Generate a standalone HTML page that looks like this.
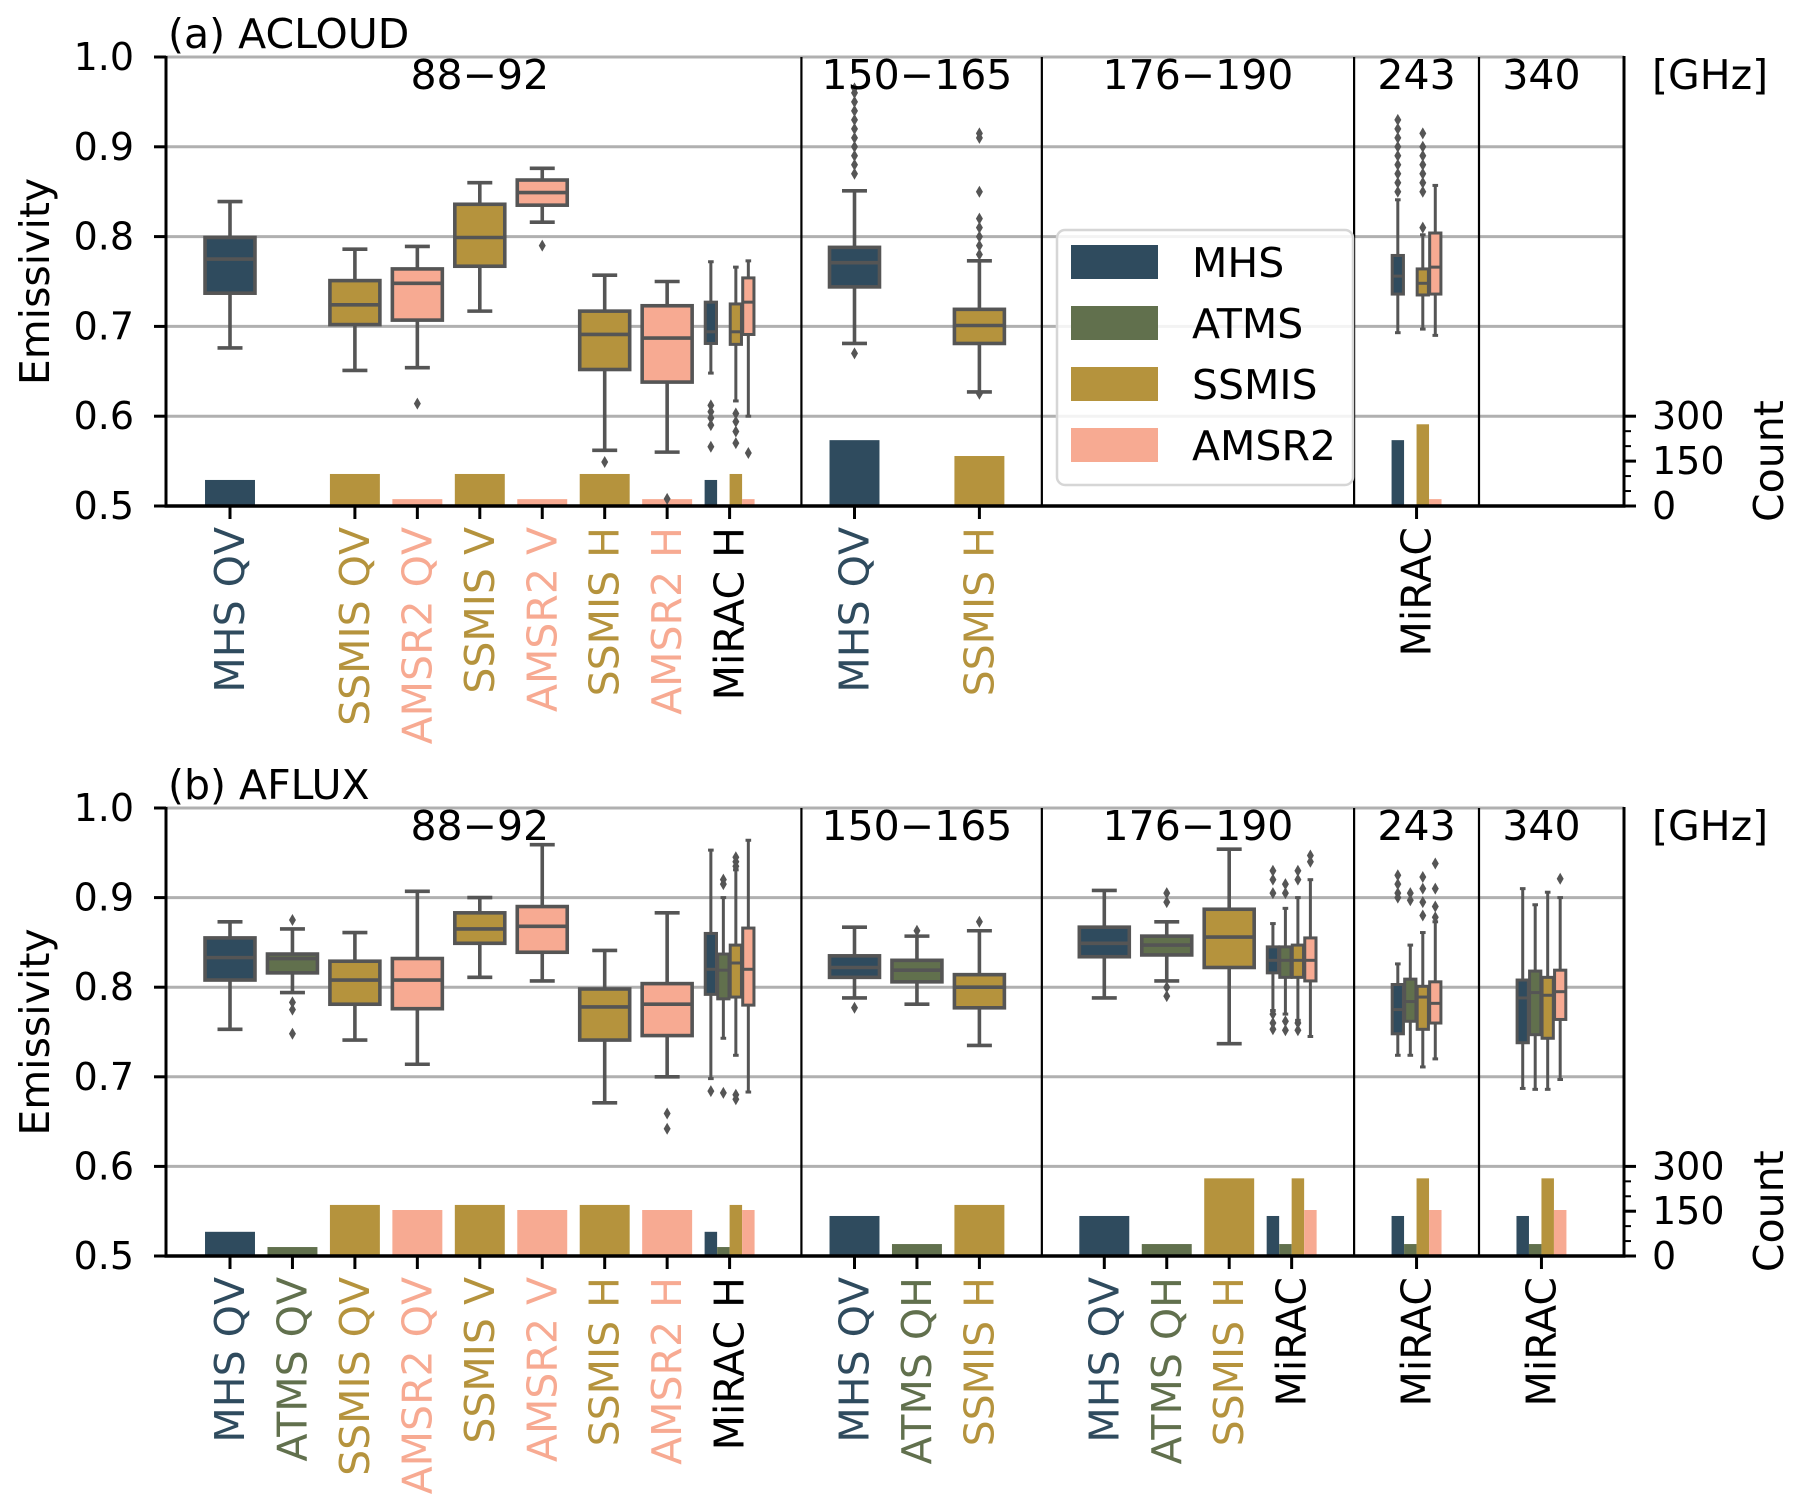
<!DOCTYPE html>
<html><head><meta charset="utf-8"><style>
html,body{margin:0;padding:0;background:#fff;}
svg{display:block;font-family:"DejaVu Sans","Liberation Sans",sans-serif;}
</style></head><body>
<svg id="chart" width="1800" height="1512" viewBox="0 0 1800 1512" xmlns="http://www.w3.org/2000/svg"></svg>
<script>
// ---------- data ----------
const hueNames = ["MHS","ATMS","SSMIS","AMSR2"];
const hueColors = ["#2f4b5e","#61704d","#b5933d","#f7aa92"];
const yTicks = [0.5,0.6,0.7,0.8,0.9,1.0];
const yTickLabels = ["0.5","0.6","0.7","0.8","0.9","1.0"];
const countTicks = [0,150,300];
const countTickLabels = ["0","150","300"];
const countMinor = [50,100,200,250];
const groupLabels = ["88\u221292","150\u2212165","176\u2212190","243","340"];
const groupCenters = [4,11,15.5,19,21];
const separators = [9.15,13,18,20];

// Panel a (ACLOUD)
const aLabelPos = [0,2,3,4,5,6,7,8,10,12,19];
const aLabels = ["MHS QV","SSMIS QV","AMSR2 QV","SSMIS V","AMSR2 V","SSMIS H","AMSR2 H","MiRAC H","MHS QV","SSMIS H","MiRAC"];
const aLabelHue = [0,2,3,2,3,2,3,-1,0,2,-1];
const aBoxPos = [0,2,3,4,5,6,7,8,8,8,10,12,19,19,19];
const aBoxHue = [0,2,3,2,3,2,3,0,2,3,0,2,0,2,3];
const aBoxDodge = [0,0,0,0,0,0,0,1,1,1,0,0,1,1,1];
const aBoxStats = [
 [0.676,0.737,0.775,0.799,0.839],[0.651,0.702,0.724,0.751,0.786],[0.654,0.707,0.748,0.764,0.789],
 [0.717,0.767,0.799,0.836,0.860],[0.816,0.835,0.849,0.863,0.876],[0.562,0.652,0.691,0.717,0.757],
 [0.560,0.638,0.687,0.723,0.750],[0.648,0.681,0.694,0.727,0.772],[0.617,0.680,0.694,0.725,0.766],
 [0.600,0.691,0.727,0.754,0.773],[0.681,0.744,0.771,0.788,0.851],[0.627,0.681,0.701,0.719,0.773],
 [0.693,0.736,0.756,0.779,0.841],[0.697,0.735,0.748,0.764,0.802],[0.690,0.736,0.766,0.804,0.857]];
const aBoxOut = [[],[],[0.614],[],[0.790],[0.549],[0.508],[0.612,0.605,0.598,0.590,0.566],[0.603,0.594,0.583,0.570],[0.559],
 [0.670,0.87,0.88,0.89,0.90,0.91,0.92,0.93,0.94,0.95,0.96,0.965],[0.625,0.78,0.79,0.80,0.81,0.82,0.85,0.91,0.915],
 [0.85,0.86,0.87,0.88,0.89,0.90,0.91,0.92,0.93],[0.81,0.85,0.86,0.87,0.88,0.89,0.90,0.915],[]];
const aBarPos = [0,2,3,4,5,6,7,8,8,8,10,12,19,19,19];
const aBarHue = [0,2,3,2,3,2,3,0,2,3,0,2,0,2,3];
const aBarDodge = [0,0,0,0,0,0,0,1,1,1,0,0,1,1,1];
const aBarCount = [87,107,23,107,23,107,23,87,107,23,220,167,220,273,23];

// Panel b (AFLUX)
const bLabelPos = [0,1,2,3,4,5,6,7,8,10,11,12,14,15,16,17,19,21];
const bLabels = ["MHS QV","ATMS QV","SSMIS QV","AMSR2 QV","SSMIS V","AMSR2 V","SSMIS H","AMSR2 H","MiRAC H","MHS QV","ATMS QH","SSMIS H","MHS QV","ATMS QH","SSMIS H","MiRAC","MiRAC","MiRAC"];
const bLabelHue = [0,1,2,3,2,3,2,3,-1,0,1,2,0,1,2,-1,-1,-1];
const bBoxPos = [0,1,2,3,4,5,6,7,8,8,8,8,10,11,12,14,15,16,17,17,17,17,19,19,19,19,21,21,21,21];
const bBoxHue = [0,1,2,3,2,3,2,3,0,1,2,3,0,1,2,0,1,2,0,1,2,3,0,1,2,3,0,1,2,3];
const bBoxDodge = [0,0,0,0,0,0,0,0,1,1,1,1,0,0,0,0,0,0,1,1,1,1,1,1,1,1,1,1,1,1];
const bBoxStats = [
 [0.753,0.808,0.833,0.855,0.873],[0.794,0.816,0.832,0.837,0.865],[0.741,0.781,0.808,0.829,0.861],
 [0.714,0.776,0.808,0.832,0.907],[0.811,0.849,0.865,0.883,0.900],[0.807,0.839,0.868,0.890,0.959],
 [0.671,0.741,0.778,0.798,0.841],[0.700,0.746,0.781,0.804,0.883],
 [0.698,0.792,0.820,0.860,0.953],[0.743,0.787,0.819,0.837,0.900],[0.724,0.789,0.827,0.847,0.931],[0.683,0.780,0.820,0.866,0.964],
 [0.788,0.811,0.822,0.835,0.867],[0.781,0.806,0.819,0.830,0.857],[0.735,0.777,0.800,0.814,0.863],
 [0.788,0.834,0.849,0.867,0.908],[0.807,0.836,0.847,0.857,0.873],[0.737,0.822,0.856,0.887,0.954],
 [0.774,0.816,0.830,0.845,0.871],[0.770,0.811,0.830,0.845,0.888],[0.763,0.811,0.830,0.847,0.900],[0.745,0.807,0.830,0.855,0.920],
 [0.724,0.748,0.775,0.803,0.826],[0.724,0.762,0.784,0.809,0.847],[0.711,0.753,0.789,0.801,0.861],[0.720,0.760,0.782,0.806,0.873],
 [0.687,0.738,0.788,0.808,0.910],[0.686,0.747,0.794,0.818,0.892],[0.686,0.743,0.791,0.811,0.906],[0.697,0.764,0.795,0.819,0.900]];
const bBoxOut = [[],[0.875,0.783,0.775,0.748],[],[],[],[],[],[0.659,0.642],
 [0.684],[0.92,0.915,0.682],[0.94,0.945,0.935,0.68,0.675],[],
 [0.777],[0.863],[0.873],[],[0.905,0.895,0.80,0.79],[],
 [0.93,0.92,0.905,0.77,0.76,0.753],[0.915,0.905,0.762,0.752],[0.93,0.92,0.76,0.752],[0.947,0.94],
 [0.925,0.915,0.905,0.90],[0.905,0.897],[0.923,0.91,0.895,0.88],[0.938,0.91,0.89,0.878],
 [],[],[],[0.921]];
const bBarPos = [0,1,2,3,4,5,6,7,8,8,8,8,10,11,12,14,15,16,17,17,17,17,19,19,19,19,21,21,21,21];
const bBarHue = [0,1,2,3,2,3,2,3,0,1,2,3,0,1,2,0,1,2,0,1,2,3,0,1,2,3,0,1,2,3];
const bBarDodge = [0,0,0,0,0,0,0,0,1,1,1,1,0,0,0,0,0,0,1,1,1,1,1,1,1,1,1,1,1,1];
const bBarCount = [81,30,171,154,171,154,171,154,81,30,171,154,134,40,171,134,40,260,134,40,260,154,134,40,260,154,134,40,260,154];

// ---------- drawing ----------
const NS = "http://www.w3.org/2000/svg";
const svg = document.getElementById("chart");
const X0 = 230, DX = 62.45, XL = 166, XR = 1624;
function xs(k){ return X0 + k*DX; }
function mk(tag, attrs, parent, text){
  const e = document.createElementNS(NS, tag);
  for (const a in attrs) e.setAttribute(a, attrs[a]);
  if (text !== undefined) e.textContent = text;
  (parent||svg).appendChild(e);
  return e;
}
const FS = 38;
const FL = 41;
const FX = 41;

function drawPanel(p){
  const g = mk("g", {});
  
  
  const yT = p.yTop, yB = p.yBot;
  const ys = v => yT + (1 - v) / 0.5 * (yB - yT);
  const yc = c => yB - c / 300 * (yB - ys(0.6));

  yTicks.forEach(v => {
    if (v === 0.5) return;
    const l = mk("line", {x1:XL, x2:XR, y1:ys(v), y2:ys(v), stroke:"#b0b0b0", "stroke-width":3}, g);
    
    
  });
  separators.forEach(s => {
    const l = mk("line", {x1:xs(s), x2:xs(s), y1:yT, y2:yB, stroke:"#000", "stroke-width":2.2}, g);
    
    
  });
  p.barPos.forEach((k, i) => {
    const w = p.barDodge[i] ? 0.2*DX : 0.8*DX;
    const cx = p.barDodge[i] ? xs(k) + (p.barHue[i]-1.5)*0.2*DX : xs(k);
    const y = yc(p.barCount[i]);
    const r = mk("rect", {x:cx-w/2, y:y, width:w, height:yB-y, fill:hueColors[p.barHue[i]]}, g);
    
    
  });
  p.boxPos.forEach((k, i) => {
    const dodge = p.boxDodge[i];
    const w = dodge ? 0.2*DX*0.9 : 0.8*DX;
    const cx = dodge ? xs(k) + (p.boxHue[i]-1.5)*0.2*DX : xs(k);
    const s = p.boxStats[i];
    const bg = mk("g", {}, g);
    
    
    const sw = dodge ? 3 : 3.6;
    mk("line", {x1:cx, x2:cx, y1:ys(s[0]), y2:ys(s[1]), stroke:"#555", "stroke-width":sw}, bg);
    mk("line", {x1:cx, x2:cx, y1:ys(s[3]), y2:ys(s[4]), stroke:"#555", "stroke-width":sw}, bg);
    mk("line", {x1:cx-w/4, x2:cx+w/4, y1:ys(s[0]), y2:ys(s[0]), stroke:"#555", "stroke-width":sw}, bg);
    mk("line", {x1:cx-w/4, x2:cx+w/4, y1:ys(s[4]), y2:ys(s[4]), stroke:"#555", "stroke-width":sw}, bg);
    mk("rect", {x:cx-w/2, y:ys(s[3]), width:w, height:ys(s[1])-ys(s[3]), fill:hueColors[p.boxHue[i]], stroke:"#555", "stroke-width":sw}, bg);
    mk("line", {x1:cx-w/2, x2:cx+w/2, y1:ys(s[2]), y2:ys(s[2]), stroke:"#555", "stroke-width":sw}, bg);
    p.boxOut[i].forEach(o => {
      const y = ys(o);
      const d = mk("path", {d:`M${cx},${y-6} L${cx+3.5},${y} L${cx},${y+6} L${cx-3.5},${y} Z`, fill:"#555"}, bg);
      
      
    });
  });
  mk("line", {x1:XL, x2:XL, y1:yT-1, y2:yB, stroke:"#000", "stroke-width":3}, g);
  mk("line", {x1:XR, x2:XR, y1:yT-1, y2:yB, stroke:"#000", "stroke-width":3}, g);
  mk("line", {x1:XL-1.5, x2:XR+1.5, y1:yB, y2:yB, stroke:"#000", "stroke-width":3.5}, g);
  yTicks.forEach((v, i) => {
    mk("line", {x1:XL-12, x2:XL, y1:ys(v), y2:ys(v), stroke:"#000", "stroke-width":3}, g);
    const t = mk("text", {x:134, y:ys(v)+13, "text-anchor":"end", "font-size":FS, fill:"#000"}, g, yTickLabels[i]);
    
    
  });
  countTicks.forEach((c, i) => {
    mk("line", {x1:XR, x2:XR+12, y1:yc(c), y2:yc(c), stroke:"#000", "stroke-width":3}, g);
    const t = mk("text", {x:1652, y:yc(c)+13, "font-size":FS, fill:"#000"}, g, countTickLabels[i]);
    
    
  });
  countMinor.forEach(c => {
    mk("line", {x1:XR, x2:XR+7, y1:yc(c), y2:yc(c), stroke:"#000", "stroke-width":2}, g);
  });
  p.labelPos.forEach((k, i) => {
    mk("line", {x1:xs(k), x2:xs(k), y1:yB, y2:yB+13, stroke:"#000", "stroke-width":3}, g);
    const col = p.labelHue[i] < 0 ? "#000" : hueColors[p.labelHue[i]];
    const t = mk("text", {transform:`translate(${xs(k)+14},${yB+21}) rotate(-90)`, "text-anchor":"end", "font-size":FX, fill:col}, g, p.labels[i]);
    
    
  });
  groupLabels.forEach((lab, i) => {
    const t = mk("text", {x:xs(groupCenters[i]), y:yT+32, "text-anchor":"middle", "font-size":FL, fill:"#000"}, g, lab);
    
    
  });
  const ghz = mk("text", {x:1652, y:yT+32, "font-size":FL, fill:"#000"}, g, "[GHz]");
  
  
  const tt = mk("text", {x:168, y:yT-9, "font-size":FL, fill:"#000"}, g, p.title);
  
  
  const yl = mk("text", {transform:`translate(49,${(yT+yB)/2}) rotate(-90)`, "text-anchor":"middle", "font-size":FL, fill:"#000"}, g, "Emissivity");
  
  
  const cl = mk("text", {transform:`translate(1783,${(yc(0)+yc(300))/2}) rotate(-90)`, "text-anchor":"middle", "font-size":FL, fill:"#000"}, g, "Count");
  
  
  return g;
}

drawPanel({name:"panel-acloud", title:"(a) ACLOUD", yTop:57, yBot:506,
  labelPos:aLabelPos, labels:aLabels, labelHue:aLabelHue,
  boxPos:aBoxPos, boxHue:aBoxHue, boxDodge:aBoxDodge, boxStats:aBoxStats, boxOut:aBoxOut,
  barPos:aBarPos, barHue:aBarHue, barDodge:aBarDodge, barCount:aBarCount});
drawPanel({name:"panel-aflux", title:"(b) AFLUX", yTop:808, yBot:1256,
  labelPos:bLabelPos, labels:bLabels, labelHue:bLabelHue,
  boxPos:bBoxPos, boxHue:bBoxHue, boxDodge:bBoxDodge, boxStats:bBoxStats, boxOut:bBoxOut,
  barPos:bBarPos, barHue:bBarHue, barDodge:bBarDodge, barCount:bBarCount});

const lg = mk("g", {});


mk("rect", {x:1057, y:230, width:296, height:255, rx:8, fill:"rgba(255,255,255,0.85)", stroke:"#d6d6d6", "stroke-width":2.5}, lg);
hueNames.forEach((n, i) => {
  const cy = 262 + i*61;
  const e = mk("g", {}, lg);
  
  
  mk("rect", {x:1071, y:cy-17, width:87, height:34, fill:hueColors[i]}, e);
  mk("text", {x:1192, y:cy+15, "font-size":FL, fill:"#000"}, e, n);
});
</script>
</body></html>
